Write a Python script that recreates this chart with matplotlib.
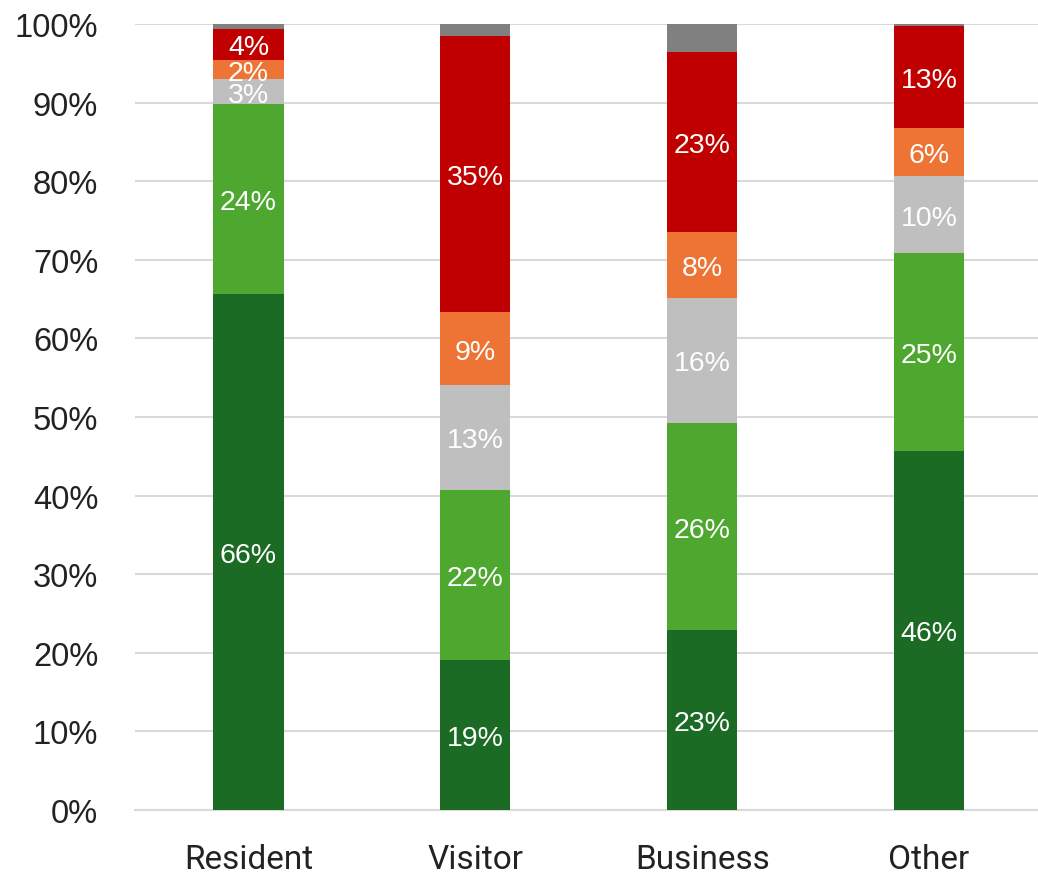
import matplotlib
matplotlib.use("Agg")
import matplotlib.pyplot as plt
import numpy as np

categories = ["Resident", "Visitor", "Business", "Other"]
series_names = ["Very good", "Good", "Neutral", "Poor", "Very poor", "Don't know"]
dark_green = [65.6, 19.1, 22.9, 45.7]
light_green = [24.2, 21.6, 26.3, 25.2]
neutral = [3.2, 13.4, 16.0, 9.7]
orange = [2.4, 9.2, 8.4, 6.2]
red = [4.0, 35.2, 22.9, 12.9]
dont_know = [0.6, 1.5, 3.5, 0.3]
y_ticks = [0, 10, 20, 30, 40, 50, 60, 70, 80, 90, 100]

series = [dark_green, light_green, neutral, orange, red, dont_know]
colors = ["#1B6B24", "#4EA72E", "#BFBFBF", "#ED7434", "#C00000", "#808080"]
show_label = [True, True, True, True, True, False]

fig = plt.figure(figsize=(10.38, 8.79), dpi=100)
ax = fig.add_axes([135/1038, 68/879, (1038-135)/1038, 786/879])

x = np.arange(len(categories))
bottom = np.zeros(len(categories))
for vals, col, lab in zip(series, colors, show_label):
    v = np.array(vals, dtype=float)
    ax.bar(x, v, width=0.31, bottom=bottom, color=col, zorder=3, linewidth=0)
    if lab:
        for xi, b, vi in zip(x, bottom, v):
            ax.text(xi, b + vi / 2, f"{round(vi):.0f}%", ha="center", va="center_baseline",
                    color="white", fontsize=20.5, family="Liberation Sans", zorder=4)
    bottom += v

ax.set_ylim(0, 100)
ax.set_xlim(-0.5, 3.48)
ax.set_yticks(y_ticks)
ax.set_yticklabels([f"{t}%" for t in y_ticks], family="Liberation Sans", fontsize=23.5, color="#222222")
ax.set_xticks(x)
ax.set_xticklabels(categories, family="Roboto", fontsize=24, color="#222222")
ax.yaxis.grid(True, color="#D9D9D9", linewidth=1.5, zorder=0)
ax.tick_params(axis="both", length=0)
ax.tick_params(axis="y", pad=26.5)
ax.tick_params(axis="x", pad=24)
for s in ["top", "right", "left"]:
    ax.spines[s].set_visible(False)
ax.spines["bottom"].set_color("#D9D9D9")
ax.spines["bottom"].set_linewidth(1.5)

fig.savefig("out.png", dpi=100)
